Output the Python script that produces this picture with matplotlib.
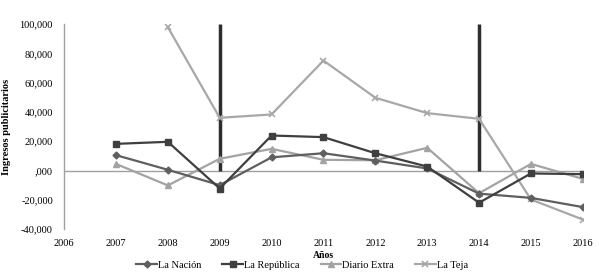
import numpy as np
import matplotlib
matplotlib.use('Agg')
import matplotlib.pyplot as plt

plt.rcParams['font.family'] = ['Liberation Serif', 'DejaVu Serif']

years = [2007, 2008, 2009, 2010, 2011, 2012, 2013, 2014, 2015, 2016]
la_nacion = [10500, 500, -10000, 9000, 11800, 6800, 1400, -15800, -18700, -25000]
la_republica = [18200, 19600, -12300, 23900, 22800, 11800, 2700, -22000, -2000, -2500]
diario_extra = [4500, -10200, 8000, 14800, 7300, 7000, 15500, -15500, 4500, -5700]
teja_years = [2008, 2009, 2010, 2011, 2012, 2013, 2014, 2015, 2016]
la_teja = [97900, 36000, 38300, 75100, 49700, 39200, 35300, -19800, -33500]
bar_years = [2009, 2014]
bar_top = 100000

yticks = [-40000, -20000, 0, 20000, 40000, 60000, 80000, 100000]
ytick_labels = ['-40,000', '-20,000', ',000', '20,000', '40,000', '60,000', '80,000', '100,000']
xticks = list(range(2006, 2017))

fig = plt.figure(figsize=(5.99, 2.74), dpi=100)
ax = fig.add_axes([0.107, 0.164, 0.866, 0.748])

ax.axhline(0, color='#a0a0a0', lw=1.0, zorder=1)
ax.vlines(bar_years, 0, bar_top, color='#2e2e2e', lw=2.5, zorder=2)

ax.plot(years, la_nacion, color='#5f5f5f', lw=1.6, marker='D', ms=3.5, label='La Nación', zorder=4)
ax.plot(years, la_republica, color='#3f3f3f', lw=1.6, marker='s', ms=5, label='La República', zorder=5)
ax.plot(years, diario_extra, color='#a3a3a3', lw=1.6, marker='^', ms=5, label='Diario Extra', zorder=3)
ax.plot(teja_years, la_teja, color='#a8a8a8', lw=1.6, marker='x', ms=5, mew=1.2, label='La Teja', zorder=3)

ax.set_xlim(2006, 2016)
ax.set_ylim(-40000, 100000)
ax.set_yticks(yticks)
ax.set_yticklabels(ytick_labels)
ax.set_xticks(xticks)
ax.tick_params(axis='both', length=0, labelsize=7.5)
ax.tick_params(axis='x', pad=7)
ax.tick_params(axis='y', pad=8)

for s in ['top', 'right', 'bottom']:
    ax.spines[s].set_visible(False)
ax.spines['left'].set_color('#a0a0a0')
ax.spines['left'].set_linewidth(1.0)

ax.set_ylabel('Ingresos publicitarios', fontsize=7.5, fontweight='bold', labelpad=6)
ax.set_xlabel('Años', fontsize=7, fontweight='bold', labelpad=2)

ax.legend(loc='center', bbox_to_anchor=(0.459, -0.176), ncol=4, frameon=False,
          fontsize=7.5, handlelength=2.0, handletextpad=0.1, columnspacing=2.0,
          borderaxespad=0, borderpad=0)

fig.savefig('out.png', dpi=100)
